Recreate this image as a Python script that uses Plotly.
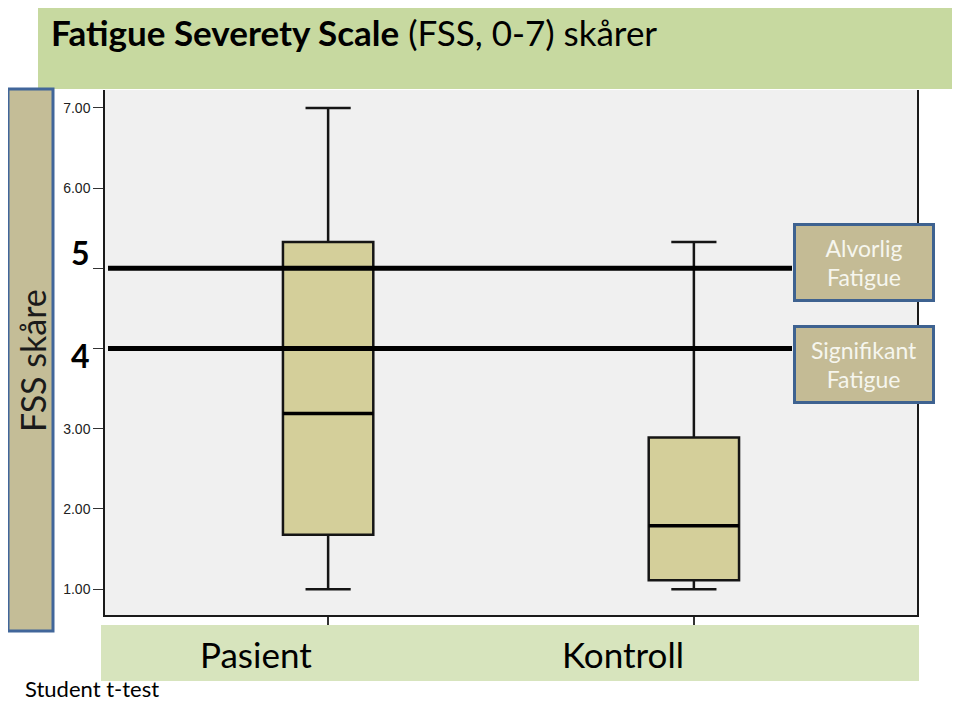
import plotly.graph_objects as go

# ---- data ----
categories = ["Pasient", "Kontroll"]
lower_whisker = [1.0, 1.0]
q1_vals = [1.68, 1.11]
median_vals = [3.19, 1.79]
q3_vals = [5.33, 2.89]
upper_whisker = [7.0, 5.33]

threshold_vals = [5, 4]
threshold_labels = ["5", "4"]
threshold_boxes = ["Alvorlig<br>Fatigue", "Signifikant<br>Fatigue"]

ytick_vals = [1, 2, 3, 4, 5, 6, 7]
ytick_text = ["1.00", "2.00", "3.00", "", "", "6.00", "7.00"]

# ---- layout geometry (pixels in the 960x701 window; page body adds 8px margin) ----
OFF = 8
W, H = 960 - OFF, 701 - OFF
L, R, T, B = 105, 917, 90, 615
pw, ph = R - L, B - T
BOX_W = 0.247


def px(x):
    return (x - L) / pw


def py(y):
    return (B - y) / ph


FONT = "Lato"

fig = go.Figure()
fig.add_trace(go.Box(
    x=categories,
    q1=q1_vals, median=median_vals, q3=q3_vals,
    lowerfence=lower_whisker, upperfence=upper_whisker,
    fillcolor="#d4cf9a",
    line=dict(color="#151515", width=2.5),
    whiskerwidth=0.5,
    width=BOX_W,
    boxpoints=False,
    hoverinfo="skip",
    showlegend=False,
))

shapes = []
# thicker median bars, drawn on the box positions from the data
for i, m in enumerate(median_vals):
    shapes.append(dict(type="line", xref="x", yref="y",
                       x0=i - BOX_W / 2, x1=i + BOX_W / 2, y0=m, y1=m,
                       line=dict(color="#000000", width=3.5), layer="above"))
# title banner
shapes.append(dict(type="rect", xref="paper", yref="paper",
                   x0=px(38), x1=px(958), y0=py(OFF), y1=py(89),
                   fillcolor="#c7d9a0", line=dict(width=0), layer="below"))
# left label box
shapes.append(dict(type="rect", xref="paper", yref="paper",
                   x0=px(8), x1=px(53), y0=py(89), y1=py(631),
                   fillcolor="#c4bd97", line=dict(color="#41669a", width=3), layer="above"))
# bottom banner
shapes.append(dict(type="rect", xref="paper", yref="paper",
                   x0=px(101), x1=px(919), y0=py(625), y1=py(681),
                   fillcolor="#d7e4bd", line=dict(width=0), layer="above"))
# threshold lines
for v in threshold_vals:
    shapes.append(dict(type="line", xref="paper", yref="y",
                       x0=px(108), x1=px(792), y0=v, y1=v,
                       line=dict(color="#000000", width=5), layer="above"))

annotations = []
annotations.append(dict(xref="paper", yref="paper", x=px(49), y=py(32),
                        xanchor="left", yanchor="middle", showarrow=False,
                        text="<b>Fatigue Severety Scale</b> (FSS, 0-7) skårer",
                        font=dict(family=FONT, size=35, color="#000000")))
annotations.append(dict(xref="paper", yref="paper", x=px(32), y=py(361),
                        xanchor="center", yanchor="middle", showarrow=False,
                        textangle=-90, text="FSS skåre",
                        font=dict(family=FONT, size=34, color="#1a1a1a")))
for cy, lab in zip([252, 355], threshold_labels):
    annotations.append(dict(xref="paper", yref="paper", x=px(80), y=py(cy),
                            xanchor="center", yanchor="middle", showarrow=False,
                            text="<b>" + lab + "</b>",
                            font=dict(family=FONT, size=32, color="#000000")))
for cy, txt in zip([262.5, 364.5], threshold_boxes):
    annotations.append(dict(xref="paper", yref="paper", x=px(864), y=py(cy),
                            xanchor="center", yanchor="middle", showarrow=False,
                            text=txt, width=136, height=73, align="center",
                            bgcolor="#c4bb95", bordercolor="#3e6290",
                            borderwidth=3, borderpad=0,
                            font=dict(family=FONT, size=23, color="#f6f6ee")))
for cx, cat in zip([256, 623], categories):
    annotations.append(dict(xref="paper", yref="paper", x=px(cx), y=py(654),
                            xanchor="center", yanchor="middle", showarrow=False,
                            text=cat,
                            font=dict(family=FONT, size=35, color="#000000")))
annotations.append(dict(xref="paper", yref="paper", x=px(23), y=py(688),
                        xanchor="left", yanchor="middle", showarrow=False,
                        text="Student t-test",
                        font=dict(family=FONT, size=22, color="#000000")))

fig.update_layout(
    width=W, height=H,
    margin=dict(l=L - OFF, r=960 - R, t=T - OFF, b=701 - B, pad=0),
    paper_bgcolor="#ffffff",
    plot_bgcolor="#f0f0f0",
    shapes=shapes,
    annotations=annotations,
    showlegend=False,
    xaxis=dict(type="category", range=[-0.61, 1.61], showgrid=False,
               zeroline=False, showline=True, linecolor="#1a1a1a", linewidth=1.5,
               ticks="outside", ticklen=9, tickcolor="#333333", tickwidth=2,
               showticklabels=False, fixedrange=True),
    yaxis=dict(range=[0.678, 7.224], showgrid=False, zeroline=False,
               showline=True, linecolor="#1a1a1a", linewidth=1.5, mirror=True,
               ticks="outside", ticklen=10, tickcolor="#333333",
               tickvals=ytick_vals, ticktext=ytick_text,
               tickfont=dict(family="Arial", size=14, color="#222222"),
               fixedrange=True),
)

fig.write_html("out.html")
